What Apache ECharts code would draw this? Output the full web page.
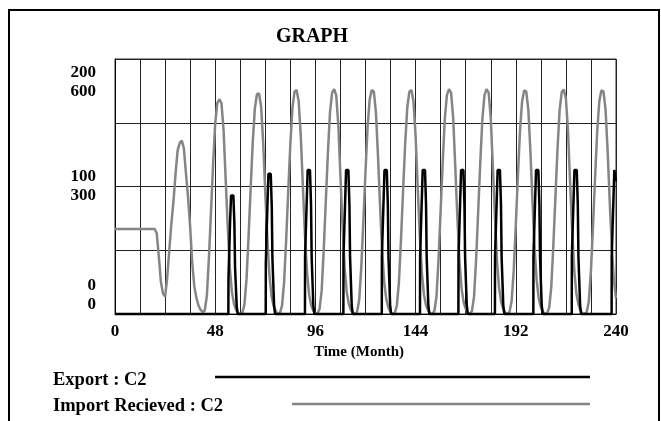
<!DOCTYPE html>
<html><head><meta charset="utf-8">
<script src="https://cdn.jsdelivr.net/npm/echarts@6/dist/echarts.min.js"></script>
<style>html,body{margin:0;padding:0;background:#fff}#c{width:661px;height:421px}</style>
</head><body><div id="c"></div>
<script>
const titleText = 'GRAPH';
const xAxisName = 'Time (Month)';
const xTickLabels = [0, 48, 96, 144, 192, 240];
const exportTickLabels = [0, 100, 200];
const importTickLabels = [0, 300, 600];
const legendNames = ['Export : C2', 'Import Recieved : C2'];

// Import Recieved : C2, one value per month 0..240
const importRecieved = [
  200,200,200,200,200,200,200,200,200,200,200,200,200,200,200,200,200,200,200,200,
  190,135,75,48,41,85,150,212,265,330,385,402,408,390,330,275,205,120,65,38,20,10,5,
  8,43,133,243,353,448,496,505,496,434,319,207,110,52,24,10,2,
  0,3,22,82,184,297,405,484,517,519,488,402,284,174,90,42,19,7,
  0,2,19,74,175,290,400,485,523,527,500,419,300,186,97,46,20,8,1,
  1,12,55,152,267,380,475,521,529,514,443,323,207,109,52,24,9,2,
  0,6,34,112,220,336,440,505,527,523,474,371,252,146,73,34,14,4,0,
  2,19,74,175,290,400,485,523,527,500,419,300,186,97,46,20,8,1,
  0,7,41,130,244,358,460,515,529,521,462,347,229,125,61,28,12,3,0,
  7,41,130,244,358,460,515,529,521,462,347,229,125,61,28,12,3,0,
  5,30,102,209,324,430,500,526,524,481,383,264,156,79,37,16,5,0,
  2,15,64,163,278,390,480,522,528,507,431,311,197,103,49,22,8,1,
  0,5,30,102,209,324,430,500,526,524,481,383,264,156,79,37
];

// Export : C2 (month, value)
const exportMonths = [
  0,
  54.3,54.35,55.1,55.6,56.7,57.2,57.5,58.3,58.8,
  72.2,72.25,73.0,73.5,74.6,75.1,75.4,76.2,76.7,
  91.0,91.05,91.8,92.3,93.4,93.9,94.2,95.0,95.5,
  109.4,109.45,110.2,110.7,111.8,112.3,112.6,113.4,113.9,
  127.8,127.85,128.6,129.1,130.2,130.7,131.0,131.8,132.3,
  146.1,146.15,146.9,147.4,148.5,149.0,149.3,150.1,150.6,
  164.5,164.55,165.3,165.8,166.9,167.4,167.7,168.5,169.0,
  182.0,182.05,182.8,183.3,184.4,184.9,185.2,186.0,186.5,
  200.4,200.45,201.2,201.7,202.8,203.3,203.6,204.4,204.9,
  218.8,218.85,219.6,220.1,221.2,221.7,222.0,222.8,223.3,
  237.9,237.95,238.7,239.2,239.7,240
];
const exportValues = [
  0,
  0,27,71,93,93,71,37,6,0,
  0,40,84,110,110,84,44,7,0,
  0,45,86,113,113,86,45,7,0,
  0,45,86,113,113,86,45,7,0,
  0,45,86,113,113,86,45,7,0,
  0,45,86,113,113,86,45,7,0,
  0,45,86,113,113,86,45,7,0,
  0,45,86,113,113,86,45,7,0,
  0,45,86,113,113,86,45,7,0,
  0,45,86,113,113,86,45,7,0,
  0,45,86,113,113,104
];

const FONT = '"Liberation Serif","Times New Roman",serif';
const GRAY = '#858585';
const chart = echarts.init(document.getElementById('c'), null, {renderer: 'canvas'});
const option = {
  animation: false,
  backgroundColor: '#fff',
  title: {
    text: titleText, left: 312, top: 27, textAlign: 'center', padding: 0,
    textStyle: {fontFamily: FONT, fontWeight: 'bold', fontSize: 20, color: '#000'}
  },
  grid: {left: 115, top: 59, width: 501, height: 255, show: true, borderColor: '#333', borderWidth: 1, backgroundColor: 'transparent'},
  xAxis: {
    type: 'value', min: 0, max: 240, interval: 12,
    axisLine: {show: true, lineStyle: {color: '#000', width: 1}},
    axisTick: {show: false},
    splitLine: {show: true, lineStyle: {color: '#222', width: 1}},
    axisLabel: {
      formatter: v => xTickLabels.includes(v) ? String(v) : '',
      fontFamily: FONT, fontWeight: 'bold', fontSize: 17, color: '#000', margin: 9
    },
    name: xAxisName, nameLocation: 'middle', nameGap: 27,
    nameTextStyle: {fontFamily: FONT, fontWeight: 'bold', fontSize: 15, color: '#000', padding: [0, 13, 0, 0]}
  },
  yAxis: [
    {
      type: 'value', min: 0, max: 200, interval: 50,
      axisLine: {show: true, lineStyle: {color: '#000', width: 1}},
      axisTick: {show: false},
      splitLine: {show: true, lineStyle: {color: '#222', width: 1}},
      axisLabel: {
        formatter: v => {
          const i = exportTickLabels.indexOf(v);
          return i < 0 ? '' : exportTickLabels[i] + '\n' + importTickLabels[i];
        },
        fontFamily: FONT, fontWeight: 'bold', fontSize: 17, color: '#000',
        lineHeight: 19, margin: 19, padding: [4, 0, 0, 0],
        verticalAlignMinLabel: 'bottom', verticalAlignMaxLabel: 'top'
      }
    },
    {type: 'value', min: 0, max: 600, interval: 150, show: false}
  ],
  series: [
    {
      name: legendNames[1], type: 'line', yAxisIndex: 1, clip: false,
      data: importRecieved.map((v, i) => [i, v]),
      showSymbol: false, symbol: 'none',
      lineStyle: {color: GRAY, width: 2.5}, z: 3
    },
    {
      name: legendNames[0], type: 'line', yAxisIndex: 0, clip: false,
      data: exportMonths.map((t, i) => [t, exportValues[i]]),
      showSymbol: false, symbol: 'none',
      lineStyle: {color: '#000', width: 2.5}, z: 4
    }
  ],
  graphic: [
    {type: 'rect', shape: {x: 9, y: 10, width: 650, height: 430}, style: {fill: null, stroke: '#000', lineWidth: 2}, silent: true},
    {type: 'text', x: 53, y: 380, style: {text: legendNames[0], font: 'bold 18.5px ' + FONT, fill: '#000', verticalAlign: 'middle'}},
    {type: 'line', shape: {x1: 215, y1: 377, x2: 590, y2: 377}, style: {stroke: '#000', lineWidth: 2.5}},
    {type: 'text', x: 53, y: 406, style: {text: legendNames[1], font: 'bold 18.5px ' + FONT, fill: '#000', verticalAlign: 'middle'}},
    {type: 'line', shape: {x1: 292, y1: 404, x2: 590, y2: 404}, style: {stroke: GRAY, lineWidth: 2.5}}
  ]
};
chart.setOption(option);
</script>
</body></html>
